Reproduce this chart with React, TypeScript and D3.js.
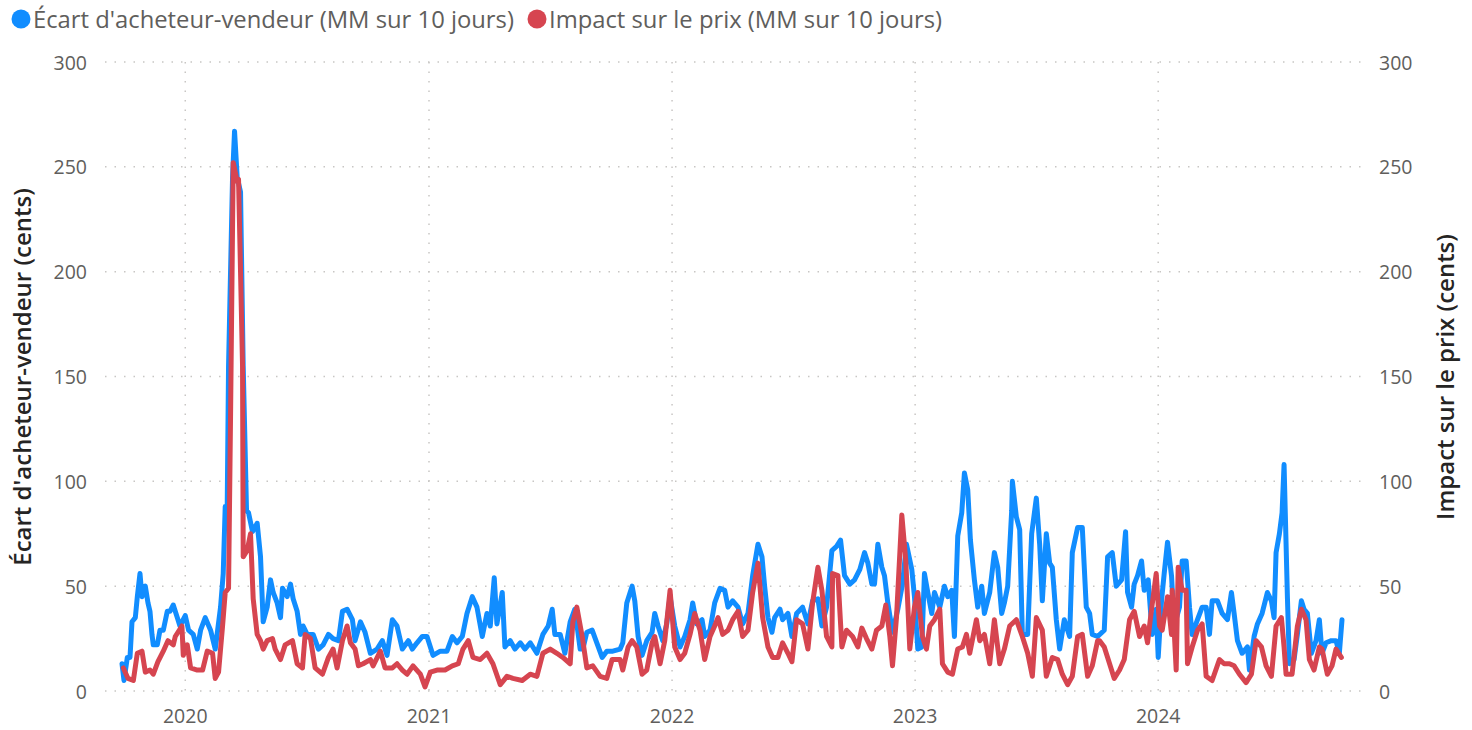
import React from "react";
import * as d3 from "d3";

// Days since 2020-01-01 and value (cents)
const baseDate = new Date(2020, 0, 1);
const yearTicks = [2020, 2021, 2022, 2023, 2024];
const valueTicks = [0, 50, 100, 150, 200, 250, 300];
const seriesNames = [
  "Écart d'acheteur-vendeur (MM sur 10 jours)",
  "Impact sur le prix (MM sur 10 jours)",
];
const leftTitle = "Écart d'acheteur-vendeur (cents)";
const rightTitle = "Impact sur le prix (cents)";

const spreadSeries: [number, number][] = [
  [-95,13],[-92,5],[-87,16],[-83,16],[-80,33],[-75,35],[-72,45],[-68,56],[-65,45],[-60,50],[-56,42],[-53,38],[-50,27],[-48,22],[-42,22],[-38,29],[-33,29],[-27,38],[-23,38],[-18,41],[-12,35],[-8,31],[0,36],[5,29],[12,27],[18,20],[23,29],[30,35],[38,29],[45,20],[53,40],[57,56],[60,88],[63,88],[65,155],[71,245],[74,267],[78,245],[83,238],[87,155],[92,86],[95,85],[101,76],[108,80],[113,64],[117,33],[123,40],[128,53],[132,47],[138,42],[143,35],[146,49],[153,45],[158,51],[162,44],[168,38],[173,27],[177,31],[183,27],[192,27],[200,20],[207,22],[215,27],[222,25],[230,24],[236,38],[243,39],
  [251,34],[255,24],[263,33],[270,28],[278,18],[288,20],[296,24],[303,17],[311,34],[318,31],[326,20],[335,24],[341,20],[348,23],[356,26],[363,26],[372,17],[383,19],[393,19],[401,26],[408,23],[416,26],[423,37],[431,45],[438,40],[446,26],[453,37],[458,31],[464,54],[468,32],[476,47],[480,21],[488,24],[495,20],[503,23],[510,20],[518,23],[528,18],[537,27],[545,31],[551,39],[555,27],[563,27],[570,18],[578,33],[585,39],[593,20],[597,20],[603,28],[611,29],[618,23],[626,16],[633,19],[642,19],[653,20],[657,23],[663,42],
  [671,50],[675,43],[680,26],[686,17],[693,24],[701,28],[705,37],[710,31],[717,24],[723,32],[728,45],[735,31],[743,21],[750,26],[758,34],[762,42],[768,32],[776,34],[780,26],[788,29],[795,42],[803,49],[810,48],[815,40],[822,43],[830,40],[837,32],[845,37],[852,55],[860,70],[866,64],[870,50],[875,35],[881,28],[885,35],[893,39],[897,34],[905,37],[911,26],[918,37],[927,40],[935,32],[942,43],[950,44],[956,31],[963,40],[971,67],[978,69],[984,72],[990,55],[998,51],[1005,53],[1013,58],[1020,66],[1025,61],[1031,51],[1035,51],[1040,70],[1046,59],[1050,55],[1055,42],[1062,28],[1070,39],[1077,51],[1083,70],[1091,58],[1095,45],[1100,20],
  [1106,21],[1110,56],[1115,47],[1121,37],[1125,47],[1133,40],[1140,50],[1145,45],[1151,48],[1155,26],[1160,74],[1166,85],[1170,104],[1175,96],[1179,72],[1185,53],[1190,40],[1196,50],[1200,37],[1208,47],[1215,66],[1220,59],[1226,37],[1230,42],[1235,50],[1241,86],[1242,100],[1248,83],[1253,77],[1257,27],[1265,27],[1271,75],[1278,92],[1283,70],[1287,43],[1293,75],[1298,61],[1302,59],[1308,34],[1313,20],[1320,34],[1328,26],[1332,66],[1340,78],[1347,78],[1353,40],[1358,37],[1362,27],[1370,26],
  [1380,29],[1385,64],[1392,66],[1398,50],[1406,53],[1412,76],[1415,47],[1421,40],[1425,51],[1430,55],[1436,62],[1440,48],[1446,53],[1452,27],[1458,39],[1461,16],[1466,43],[1470,56],[1475,71],[1481,55],[1485,31],[1493,40],[1497,62],[1503,62],[1508,40],[1512,27],[1520,34],[1527,40],[1533,40],[1538,27],[1542,43],[1550,43],[1557,37],[1565,34],[1571,47],[1575,37],[1580,24],[1587,18],[1595,21],[1598,10],[1605,26],[1610,32],[1617,37],[1625,47],[1631,43],[1635,35],[1638,66],[1643,75],[1647,85],[1650,108],[1655,45],[1658,13],[1665,15],[1670,27],[1676,43],[1680,39],[1685,37],[1691,18],[1698,24],[1703,34],[1707,18],[1713,23],[1721,24],[1728,24],[1733,18],[1737,34],
];

const impactSeries: [number, number][] = [
  [-93,11],[-86,6],[-78,5],[-72,18],[-65,19],[-60,9],[-53,10],[-48,8],[-41,14],[-33,19],[-26,24],[-18,22],[-15,26],[-5,31],[-3,17],[3,22],[8,11],[18,10],[26,10],[33,19],[41,18],[45,6],[50,9],[56,31],[60,47],[65,49],[68,131],[72,252],[78,243],[80,244],[83,200],[86,155],[87,64],[93,67],[98,75],[102,44],[108,27],[113,24],[117,20],[123,24],[131,25],[135,20],[143,15],[150,22],[161,24],[168,13],[176,11],[180,27],[188,25],[195,11],[206,8],[215,16],[222,20],[228,11],[236,24],[243,31],
  [248,23],[255,20],[260,12],[267,13],[278,15],[282,12],[293,19],[300,11],[311,11],[318,13],[326,10],[333,8],[342,12],[353,8],[360,2],[368,9],[378,10],[390,10],[401,12],[410,13],[417,20],[425,24],[432,16],[443,15],[453,18],[462,13],[473,3],[483,7],[492,6],[506,5],[518,8],[528,7],[537,18],[548,20],[558,18],[567,16],[578,13],[582,33],[588,40],[596,26],[603,11],[612,12],[623,7],[633,6],[641,15],[653,15],[657,10],[665,21],
  [671,24],[678,21],[686,8],[693,10],[701,23],[705,26],[713,13],[720,24],[728,48],[735,21],[743,15],[750,18],[758,27],[765,37],[773,29],[780,15],[788,26],[795,31],[800,35],[807,27],[815,29],[822,34],[830,38],[837,26],[845,29],[852,47],[860,61],[867,35],[875,21],[882,16],[890,16],[897,23],[905,18],[911,14],[918,34],[927,32],[935,20],[942,42],[950,59],[956,48],[963,26],[971,21],[972,56],[980,55],[986,21],[993,29],[1002,26],[1010,21],[1016,30],[1023,25],[1031,20],[1038,29],[1046,31],[1052,41],[1058,26],[1062,12],[1068,35],[1076,84],[1082,62],[1088,20],[1095,40],[1100,47],
  [1107,26],[1113,20],[1118,31],[1125,34],[1133,39],[1137,13],[1145,9],[1152,8],[1160,20],[1167,21],[1173,27],[1178,18],[1188,34],[1193,24],[1200,27],[1208,13],[1215,34],[1223,13],[1230,20],[1238,31],[1248,34],[1257,26],[1265,18],[1272,7],[1278,35],[1287,29],[1293,7],[1302,16],[1310,15],[1317,8],[1325,3],[1332,7],[1340,26],[1347,27],[1355,7],[1362,12],[1370,24],
  [1373,24],[1380,21],[1388,13],[1395,6],[1403,10],[1410,15],[1418,34],[1425,38],[1433,26],[1440,31],[1445,23],[1451,39],[1458,56],[1463,31],[1467,29],[1475,45],[1481,27],[1482,48],[1488,10],[1491,59],[1497,48],[1503,48],[1505,13],[1512,21],[1520,29],[1527,32],[1533,7],[1542,5],[1553,15],[1560,13],[1568,13],[1575,12],[1583,8],[1593,4],[1601,8],[1608,24],[1616,21],[1623,12],[1631,7],[1638,31],[1646,35],[1650,21],[1653,8],[1662,8],[1670,31],[1676,39],[1683,34],[1688,15],[1695,10],[1703,21],[1707,20],[1715,8],[1722,12],[1728,20],[1736,16],
];

const colors = ["#118DFF", "#D64550"];
const FONT = "'Segoe UI', 'Open Sans', 'Noto Sans', sans-serif";

export default function App() {
  const W = 1472;
  const H = 730;
  const plotLeft = 105;
  const plotRight = 1362;
  const plotTop = 62;
  const plotBottom = 691;

  const toDate = (d: number) => d3.timeDay.offset(baseDate, d);
  const allDays = [...spreadSeries, ...impactSeries].map((p) => p[0]);
  const x = d3
    .scaleTime()
    .domain([toDate(d3.min(allDays)!), toDate(d3.max(allDays)!)])
    .range([122, 1342]);
  const yLeft = d3.scaleLinear().domain([0, 300]).range([plotBottom, plotTop]);
  const yRight = d3.scaleLinear().domain([0, 300]).range([plotBottom, plotTop]);

  const lineL = d3
    .line<[number, number]>()
    .x((d) => x(toDate(d[0])))
    .y((d) => yLeft(d[1]));
  const lineR = d3
    .line<[number, number]>()
    .x((d) => x(toDate(d[0])))
    .y((d) => yRight(d[1]));

  const tickColor = "#605E5C";
  const gridColor = "#C8C6C4";

  return (
    <svg
      width={W}
      height={H}
      style={{ position: "absolute", left: 0, top: 0, background: "#fff" }}
      fontFamily={FONT}
    >
      {/* grid */}
      {valueTicks.map((v) => (
        <line
          key={"h" + v}
          x1={plotLeft}
          x2={plotRight}
          y1={yLeft(v)}
          y2={yLeft(v)}
          stroke={gridColor}
          strokeWidth={1.5}
          strokeDasharray="1.5,8"
        />
      ))}
      {yearTicks.map((yr) => (
        <line
          key={"v" + yr}
          x1={x(new Date(yr, 0, 1))}
          x2={x(new Date(yr, 0, 1))}
          y1={plotTop}
          y2={plotBottom}
          stroke={gridColor}
          strokeWidth={1.5}
          strokeDasharray="1.5,8"
        />
      ))}
      {/* left ticks */}
      {valueTicks.map((v) => (
        <text
          key={"l" + v}
          x={87}
          y={yLeft(v)}
          textAnchor="end"
          dominantBaseline="central"
          fontSize={19.5}
          fill={tickColor}
        >
          {v}
        </text>
      ))}
      {/* right ticks */}
      {valueTicks.map((v) => (
        <text
          key={"r" + v}
          x={1379}
          y={yRight(v)}
          textAnchor="start"
          dominantBaseline="central"
          fontSize={19.5}
          fill={tickColor}
        >
          {v}
        </text>
      ))}
      {/* x ticks */}
      {yearTicks.map((yr) => (
        <text
          key={"x" + yr}
          x={x(new Date(yr, 0, 1))}
          y={715}
          textAnchor="middle"
          dominantBaseline="central"
          fontSize={19.5}
          fill={tickColor}
        >
          {yr}
        </text>
      ))}
      {/* axis titles */}
      <text
        transform={`translate(21,${377}) rotate(-90)`}
        textAnchor="middle"
        dominantBaseline="central"
        fontSize={24}
        fontWeight={600}
        fill="#252423"
      >
        {leftTitle}
      </text>
      <text
        transform={`translate(1444,${377}) rotate(-90)`}
        textAnchor="middle"
        dominantBaseline="central"
        fontSize={24}
        fontWeight={600}
        fill="#252423"
      >
        {rightTitle}
      </text>
      {/* lines */}
      <path
        d={lineL(spreadSeries) || ""}
        fill="none"
        stroke={colors[0]}
        strokeWidth={5}
        strokeLinejoin="round"
        strokeLinecap="round"
      />
      <path
        d={lineR(impactSeries) || ""}
        fill="none"
        stroke={colors[1]}
        strokeWidth={5}
        strokeLinejoin="round"
        strokeLinecap="round"
      />
      {/* legend */}
      <circle cx={21} cy={19} r={9.5} fill={colors[0]} />
      <text x={33} y={19} dominantBaseline="central" fontSize={23.8} fill={tickColor}>
        {seriesNames[0]}
      </text>
      <circle cx={537} cy={19} r={9.5} fill={colors[1]} />
      <text x={549} y={19} dominantBaseline="central" fontSize={23.8} fill={tickColor}>
        {seriesNames[1]}
      </text>
    </svg>
  );
}
